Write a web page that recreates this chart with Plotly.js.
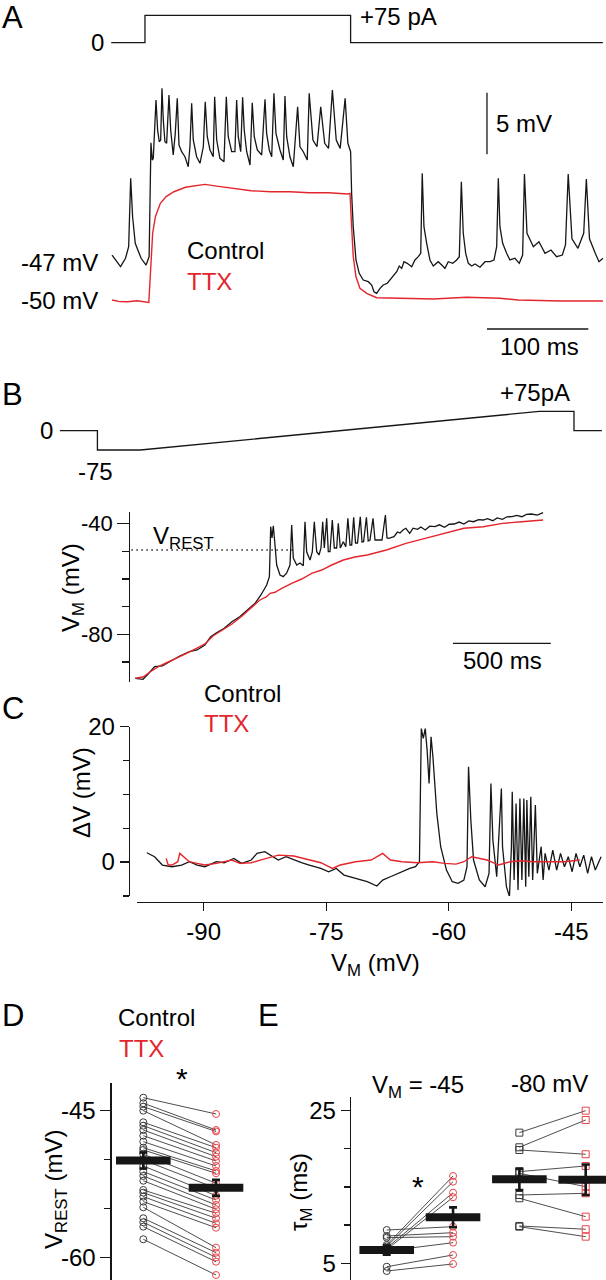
<!DOCTYPE html>
<html><head><meta charset="utf-8">
<script src="https://cdn.plot.ly/plotly-3.0.1.min.js"></script>
<style>html,body{margin:0;padding:0;background:#fff}#fig{width:606px;height:1280px}</style>
</head><body><div id="fig"></div>
<script>
// ---------- DATA ----------
// Panel A: step current (ms, pA)
const A_current = [[-33.3,0],[0,0],[0,75],[203,75],[203,0],[452,0]];
// Panel A: membrane potential (ms, mV)
const A_control = [[-32.5,-46.27],[-28.6,-46.67],[-24.1,-47.21],[-19.2,-46.53],[-16.1,-45.59],[-14.1,-40.04],[-12.2,-43.16],[-9.6,-45.32],[-3.8,-46.53],[1.1,-47.08],[4.1,-46.40],[5.9,-37.15],[7.2,-38.56],[8.2,-38.42],[9.6,-36.39],[10.9,-33.68],[12.5,-36.12],[14.1,-37.07],[15.5,-36.93],[16.8,-32.74],[18.1,-35.31],[19.7,-37.07],[21.4,-37.20],[23.7,-33.28],[25.4,-36.12],[27.9,-38.15],[29.9,-36.39],[31.9,-33.55],[33.6,-37.34],[36.2,-37.88],[39.5,-38.29],[42.7,-39.10],[44.4,-37.48],[46.1,-33.95],[47.7,-36.93],[51.0,-38.29],[54.3,-38.82],[57.6,-37.48],[59.5,-33.82],[61.5,-36.66],[64.2,-37.74],[67.4,-38.29],[68.8,-33.42],[70.8,-36.93],[74.0,-38.42],[78.0,-38.69],[80.3,-33.42],[82.2,-36.66],[85.6,-37.88],[88.8,-37.88],[90.5,-33.68],[92.1,-36.66],[94.5,-37.88],[96.4,-33.47],[98.0,-36.12],[100.4,-37.88],[103.7,-38.96],[105.9,-33.90],[107.9,-36.66],[110.9,-37.74],[115.2,-38.15],[118.5,-33.63],[120.1,-36.39],[122.7,-37.74],[125.1,-38.29],[127.3,-33.14],[129.3,-36.39],[133.3,-37.74],[136.5,-38.56],[138.2,-33.36],[139.9,-36.66],[143.1,-38.29],[146.4,-39.10],[150.7,-34.23],[153.0,-37.48],[156.3,-37.88],[160.2,-38.56],[162.1,-33.14],[165.8,-36.93],[169.8,-37.48],[173.5,-34.23],[177.4,-37.20],[181.2,-37.61],[185.0,-32.87],[188.8,-36.93],[192.7,-37.61],[197.6,-33.55],[200.3,-37.20],[203.0,-37.88],[204.0,-41.26],[205.6,-43.97],[208.3,-46.67],[211.5,-47.75],[215.5,-48.30],[220.4,-48.43],[223.8,-48.70],[226.1,-49.25],[228.7,-49.38],[232.0,-48.97],[235.2,-48.70],[239.2,-48.56],[243.5,-48.16],[248.5,-47.62],[251.0,-47.16],[253.4,-47.35],[255.7,-46.81],[258.9,-46.94],[263.3,-47.22],[266.5,-46.67],[269.8,-46.40],[272.2,-46.13],[273.7,-39.63],[275.4,-43.97],[278.1,-45.32],[281.3,-46.67],[284.6,-47.16],[289.5,-46.81],[292.9,-47.08],[296.1,-47.35],[299.4,-46.81],[303.8,-46.94],[307.7,-46.67],[310.3,-46.40],[312.3,-40.32],[314.2,-44.50],[316.6,-46.13],[319.2,-46.94],[322.5,-47.16],[325.8,-47.00],[330.7,-47.26],[335.7,-46.81],[340.6,-46.81],[344.5,-46.67],[347.2,-45.59],[348.8,-40.04],[350.4,-43.97],[353.1,-45.32],[357.0,-46.13],[360.3,-46.67],[365.2,-46.53],[369.5,-46.94],[372.8,-46.27],[374.6,-39.69],[377.1,-44.50],[383.4,-45.59],[388.9,-45.19],[394.9,-46.13],[400.8,-45.86],[406.3,-46.40],[412.0,-46.27],[415.1,-45.45],[417.8,-39.69],[421.5,-44.95],[427.4,-45.72],[433.1,-44.50],[435.7,-40.10],[438.8,-44.95],[444.5,-46.13],[448.2,-46.81],[452.1,-46.53]];
const A_ttx = [[-32.5,-49.92],[-25,-50.05],[-17.2,-50.06],[-8,-49.98],[3.8,-50.11],[5.7,-47.22],[7.6,-44.50],[10.3,-43.16],[15.2,-42.07],[20.9,-41.53],[28.6,-41.13],[40.0,-40.77],[51.4,-40.61],[59.1,-40.53],[70.6,-40.67],[85.8,-40.85],[104.9,-41.05],[124.0,-41.13],[143.0,-41.13],[162.1,-41.21],[181.2,-41.21],[200.3,-41.31],[202.4,-41.26],[204.0,-43.97],[205.6,-46.40],[208.3,-48.03],[212.2,-48.97],[218.9,-49.38],[228.7,-49.73],[251.7,-49.78],[284.6,-49.84],[317.6,-49.70],[350.4,-49.78],[368.5,-49.92],[410.2,-50.0],[452.1,-50.0]];

// Panel B: ramp current (ms, pA)
const B_current = [[-385.4,0],[-193.7,0],[-193.7,-75],[25.6,-75],[2064.7,75],[2242.6,75],[2242.6,0],[2385.2,0]];
// Panel B: membrane potential during ramp (ms, mV)
const B_control = [[0,-95.89],[39.4,-96.25],[69.0,-94.08],[98.7,-91.69],[138.0,-91.44],[177.9,-89.89],[227.0,-87.83],[276.6,-86.27],[315.9,-85.66],[355.8,-83.85],[385.4,-80.85],[415.1,-79.40],[454.5,-77.81],[493.8,-75.43],[533.7,-73.62],[573.1,-71.20],[612.4,-68.78],[642.1,-65.77],[671.7,-62.16],[685.5,-59.16],[692.2,-41.08],[698.8,-45.17],[705.5,-40.72],[714.1,-47.70],[722.8,-54.93],[739.7,-58.55],[756.6,-59.16],[773.9,-57.82],[790.8,-54.93],[799.5,-40.47],[807.7,-52.40],[825.1,-54.93],[841.9,-54.21],[858.8,-55.18],[867.5,-39.28],[876.2,-50.23],[893.1,-53.12],[904.8,-50.23],[915.0,-39.28],[927.3,-50.12],[939.1,-51.31],[949.3,-48.78],[958.0,-39.28],[966.2,-48.78],[978.4,-38.05],[986.6,-50.12],[995.3,-50.12],[1007.1,-38.66],[1017.3,-48.78],[1029.5,-48.78],[1037.7,-39.86],[1048.0,-48.78],[1063.3,-46.51],[1076.1,-48.31],[1086.8,-38.05],[1097.5,-47.70],[1106.2,-47.70],[1116.4,-37.69],[1125.7,-46.98],[1135.9,-46.98],[1150.2,-37.47],[1158.9,-46.62],[1167.1,-46.51],[1181.4,-37.69],[1190.6,-46.25],[1199.8,-45.89],[1215.2,-38.05],[1225.4,-45.89],[1240.7,-45.89],[1261.2,-45.89],[1278.5,-36.85],[1286.7,-45.17],[1294.9,-45.28],[1322.5,-44.70],[1340,-43.0],[1353.2,-43.36],[1370,-42.2],[1383.3,-41.66],[1402.8,-43.47],[1420,-41.6],[1442.6,-42.02],[1460,-41.2],[1482.0,-42.28],[1505,-40.9],[1531.6,-41.08],[1555,-40.4],[1580.7,-41.30],[1605,-40.2],[1630.2,-40.11],[1655,-39.4],[1679.8,-40.11],[1705,-39.0],[1728.9,-39.28],[1755,-38.5],[1778.5,-38.66],[1800,-38.2],[1827.5,-38.92],[1850,-37.9],[1877.1,-38.41],[1900,-37.5],[1926.7,-37.47],[1950,-37.0],[1975.8,-37.47],[2000,-36.6],[2025.4,-36.49],[2055,-36.9],[2084.7,-36.02]];
const B_ttx = [[0,-95.89],[39.4,-95.42],[75.1,-93.61],[116.0,-91.80],[156.9,-90.36],[202.9,-88.91],[254.1,-87.17],[305.2,-85.30],[356.3,-83.49],[397.2,-80.60],[443.2,-78.43],[494.3,-76.26],[545.5,-73.37],[596.6,-70.11],[637.5,-67.58],[671.7,-66.39],[688.6,-65.16],[714.1,-64.80],[748.4,-63.35],[799.5,-61.55],[850.6,-59.99],[901.7,-57.93],[952.9,-56.74],[1004.0,-54.93],[1063.3,-53.12],[1123.1,-52.04],[1185.5,-51.31],[1284.1,-49.51],[1383.3,-47.09],[1482.0,-45.28],[1580.7,-43.47],[1679.8,-41.66],[1778.5,-41.08],[1877.1,-39.86],[1975.8,-39.28],[2084.7,-38.66]];
const B_vrest = -49.5;

// Panel C: deltaV vs VM (mV, mV)
const C_control = [[-96.96,1.38],[-96.01,0.79],[-95.06,-0.44],[-93.88,-0.69],[-92.70,-0.44],[-91.75,0.05],[-90.80,-0.44],[-89.86,-0.69],[-88.44,0.05],[-87.49,-0.10],[-86.31,0.54],[-85.36,-0.20],[-84.18,0.30],[-83.47,1.28],[-82.52,1.53],[-81.81,1.03],[-80.87,0.30],[-79.92,0.79],[-78.97,0.30],[-78.03,-0.10],[-77.08,-0.44],[-75.66,-0.94],[-74.71,-1.43],[-73.77,-0.94],[-72.82,-1.92],[-71.40,-2.41],[-69.98,-2.91],[-68.80,-3.55],[-68.09,-2.66],[-67.14,-2.17],[-66.20,-1.67],[-64.78,-0.94],[-64.07,-0.69],[-63.59,0.05],[-63.36,19.75],[-63.12,18.28],[-62.88,19.75],[-62.65,16.55],[-62.41,11.63],[-62.17,18.52],[-61.94,15.57],[-61.46,7.19],[-60.99,2.27],[-60.28,-1.18],[-59.57,-2.91],[-58.86,-3.15],[-58.15,-2.66],[-57.77,-0.69],[-57.58,14.09],[-57.30,6.21],[-56.97,0.30],[-56.26,-2.66],[-55.55,-3.65],[-55.07,-1.67],[-54.84,11.63],[-54.60,3.25],[-54.13,-2.17],[-53.56,10.89],[-53.42,2.27],[-52.94,-3.65],[-52.57,-5.12],[-52.33,2.27],[-52.23,10.39],[-52.00,-2.66],[-51.76,8.67],[-51.52,-4.14],[-51.29,9.41],[-51.05,-2.66],[-50.81,9.41],[-50.58,-3.65],[-50.44,9.16],[-50.20,-2.17],[-49.96,9.66],[-49.73,-2.66],[-49.40,8.42],[-49.16,-1.67],[-48.69,2.27],[-48.45,-2.66],[-48.21,1.28],[-47.74,-1.18],[-47.27,1.77],[-46.79,-1.18],[-46.32,1.28],[-45.84,-0.69],[-45.37,0.79],[-44.90,-1.43],[-44.42,1.28],[-43.95,-0.69],[-43.48,1.03],[-43.00,-1.67],[-42.53,0.79],[-42.06,-1.18],[-41.35,0.79]];
const C_ttx = [[-94.59,0.54],[-94.35,-0.44],[-93.88,-0.44],[-93.17,0.05],[-92.93,1.28],[-92.46,0.79],[-91.75,0.05],[-90.80,-0.20],[-89.86,-0.44],[-88.44,-0.20],[-86.55,0.30],[-85.60,-0.20],[-84.18,-0.10],[-82.76,0.39],[-80.87,1.03],[-78.97,0.89],[-77.08,0.30],[-75.66,-0.10],[-74.24,-0.94],[-73.29,-0.44],[-71.40,0.05],[-69.51,0.30],[-68.09,1.28],[-67.14,0.30],[-65.72,0.05],[-63.83,-0.10],[-61.94,0.05],[-60.52,-0.20],[-59.10,-0.30],[-58.15,0.05],[-57.20,0.79],[-56.26,0.54],[-55.31,0.30],[-53.89,-0.44],[-52.47,0.05],[-51.05,0.20],[-49.63,0.05],[-47.74,0.05],[-45.84,0.05],[-43.95,0.30]];

// Panel D: V_REST per cell (mV)
const D_control = [-43.67,-44.24,-44.59,-45.00,-46.19,-46.54,-46.98,-47.56,-48.17,-48.79,-49.02,-49.46,-50.05,-50.66,-51.24,-51.68,-52.17,-53.12,-53.39,-53.80,-54.31,-54.89,-56.01,-56.42,-56.87,-58.16];
const D_ttx     = [-45.34,-46.98,-47.13,-48.51,-48.79,-49.30,-49.71,-50.15,-50.66,-51.17,-51.41,-52.43,-52.94,-53.70,-54.14,-54.65,-55.09,-55.50,-56.01,-56.53,-56.98,-59.02,-59.53,-60.01,-60.46,-61.82];
const D_mean = [-50.1,-52.9];
const D_sem  = [0.82,0.82];

// Panel E: tau_M per cell (ms)
const E45_control = [9.36,8.58,8.36,7.40,7.20,7.00,6.81,6.61,4.55,3.99];
const E45_ttx     = [9.80,9.01,8.49,16.44,15.69,14.25,13.65,7.70,6.09,4.91];
const E80_control = [22.12,20.20,19.85,17.01,16.79,13.95,13.52,9.89,9.80];
const E80_ttx     = [25.00,23.78,19.29,17.75,15.04,14.17,11.11,9.46,8.49];
const E_mean = [6.74,11.03,16.0,15.95];
const E_sem  = [0.6,1.3,1.4,2.0];

// Tick labels
const B_ticks = [-40,-80];
const C_xticks = [-90,-75,-60,-45];
const C_yticks = [0,20];
const D_ticks = [-45,-60];
const E_ticks = [5,25];

// ---------- RENDER ----------
const W=606,H=1280;
const FONT='"Liberation Sans", Arial, Helvetica, sans-serif';
const BLK='#161616', RED='#e3262d', RED_M='#e8454b', GRY='#3a3a3a';
const px=v=>v/W, py=v=>1-v/H;
const xs=p=>p.map(d=>d[0]), ys=p=>p.map(d=>d[1]);
function line(p,xa,ya,color,w,dash){return {type:'scatter',mode:'lines',x:xs(p),y:ys(p),xaxis:xa,yaxis:ya,line:{color:color,width:w||1.3,dash:dash||'solid'},hoverinfo:'skip',showlegend:false};}
function pairs(c,t,x0,x1){const x=[],y=[];for(let i=0;i<c.length;i++){x.push(x0,x1,null);y.push(c[i],t[i],null);}return {x,y};}

const traces=[];
traces.push(line(A_current,'x','y',BLK,1.3));
traces.push(line(A_ttx,'x2','y2',RED,1.4));
traces.push(line(A_control,'x2','y2',BLK,1.3));
traces.push(line(B_current,'x3','y3',BLK,1.3));
traces.push({type:'scatter',mode:'lines',x:[-20,810],y:[B_vrest,B_vrest],xaxis:'x4',yaxis:'y4',line:{color:BLK,width:1.4,dash:'1.4px,3.6px'},showlegend:false,hoverinfo:'skip'});
traces.push(line(B_control,'x4','y4',BLK,1.3));
traces.push(line(B_ttx,'x4','y4',RED,1.4));
traces.push(line(C_control,'x5','y5',BLK,1.3));
traces.push(line(C_ttx,'x5','y5',RED,1.4));

// D
const dp=pairs(D_control,D_ttx,1,2);
traces.push({type:'scatter',mode:'lines',x:dp.x,y:dp.y,xaxis:'x6',yaxis:'y6',line:{color:GRY,width:0.9},showlegend:false,hoverinfo:'skip'});
traces.push({type:'scatter',mode:'markers',x:D_control.map(()=>1),y:D_control,xaxis:'x6',yaxis:'y6',marker:{symbol:'circle-open',size:7,color:GRY,line:{width:1,color:GRY}},showlegend:false});
traces.push({type:'scatter',mode:'markers',x:D_ttx.map(()=>2),y:D_ttx,xaxis:'x6',yaxis:'y6',marker:{symbol:'circle-open',size:7,color:RED_M,line:{width:1,color:RED_M}},showlegend:false});
traces.push({type:'scatter',mode:'markers',x:[1,2],y:D_mean,xaxis:'x6',yaxis:'y6',marker:{symbol:'line-ew',size:39,line:{width:8,color:BLK}},error_y:{type:'data',array:D_sem,visible:true,color:BLK,thickness:2.6,width:4},showlegend:false});

// E
const e1=pairs(E45_control,E45_ttx,1,2), e2=pairs(E80_control,E80_ttx,3,4);
traces.push({type:'scatter',mode:'lines',x:e1.x.concat(e2.x),y:e1.y.concat(e2.y),xaxis:'x7',yaxis:'y7',line:{color:GRY,width:0.9},showlegend:false,hoverinfo:'skip'});
traces.push({type:'scatter',mode:'markers',x:E45_control.map(()=>1),y:E45_control,xaxis:'x7',yaxis:'y7',marker:{symbol:'circle-open',size:7,color:GRY,line:{width:1,color:GRY}},showlegend:false});
traces.push({type:'scatter',mode:'markers',x:E45_ttx.map(()=>2),y:E45_ttx,xaxis:'x7',yaxis:'y7',marker:{symbol:'circle-open',size:7,color:RED_M,line:{width:1,color:RED_M}},showlegend:false});
traces.push({type:'scatter',mode:'markers',x:E80_control.map(()=>3),y:E80_control,xaxis:'x7',yaxis:'y7',marker:{symbol:'square-open',size:7,color:GRY,line:{width:1,color:GRY}},showlegend:false});
traces.push({type:'scatter',mode:'markers',x:E80_ttx.map(()=>4),y:E80_ttx,xaxis:'x7',yaxis:'y7',marker:{symbol:'square-open',size:7,color:RED_M,line:{width:1,color:RED_M}},showlegend:false});
traces.push({type:'scatter',mode:'markers',x:[1,2,3,4],y:E_mean,xaxis:'x7',yaxis:'y7',marker:{symbol:'line-ew',size:39,line:{width:8,color:BLK}},error_y:{type:'data',array:E_sem,visible:true,color:BLK,thickness:2.6,width:4},showlegend:false});

const hid={visible:false,showgrid:false,zeroline:false,fixedrange:true};
const tf={size:24,color:'#000',family:FONT};
function arr(v){return {tickmode:'array',tickvals:v,ticktext:v.map(String)};}
function minor(d,t0,len){return {ticks:'outside',tickmode:'linear',dtick:d,tick0:t0,ticklen:len||6,tickwidth:1.3,tickcolor:BLK,showgrid:false};}
function yax(o){return Object.assign({showgrid:false,zeroline:false,showline:true,linecolor:BLK,linewidth:1.3,ticks:'outside',tickcolor:BLK,tickwidth:1.3,tickfont:tf,fixedrange:true},o);}

const layout={
  width:W,height:H,margin:{l:0,r:0,t:0,b:0},paper_bgcolor:'#fff',plot_bgcolor:'rgba(0,0,0,0)',
  showlegend:false,font:{family:FONT,size:24,color:'#000'},
  xaxis:Object.assign({},hid,{domain:[0,1],range:[-143.1,455.1]}),
  yaxis:Object.assign({},hid,{domain:[py(55),py(5)],range:[-33.7,103.2],anchor:'x'}),
  xaxis2:Object.assign({},hid,{domain:[0,1],range:[-143.1,455.1],anchor:'y2'}),
  yaxis2:Object.assign({},hid,{domain:[py(310),py(80)],range:[-50.73,-32.06],anchor:'x2'}),
  xaxis3:Object.assign({},hid,{domain:[0,1],range:[-691.7,2406.3],anchor:'y3'}),
  yaxis3:Object.assign({},hid,{domain:[py(460),py(400)],range:[-113.9,119.3],anchor:'x3'}),
  xaxis4:Object.assign({},hid,{domain:[0,1],range:[-691.7,2406.3],anchor:'y4'}),
  yaxis4:yax(Object.assign(arr(B_ticks),{domain:[py(681.7),py(511.7)],range:[-97.12,-35.66],anchor:'free',position:px(129.1),ticklen:12,
     tickfont:{size:22,color:'#000',family:FONT},minor:minor(10,-40,7)})),
  xaxis5:Object.assign(arr(C_xticks),{domain:[px(137.2),px(603)],range:[-98.14,-41.12],anchor:'free',position:py(901.7),showgrid:false,zeroline:false,showline:true,linecolor:BLK,linewidth:1.3,ticks:'outside',tickcolor:BLK,tickwidth:1.3,ticklen:8,tickfont:tf,fixedrange:true}),
  yaxis5:yax(Object.assign(arr(C_yticks),{domain:[py(896),py(726.7)],range:[-5.02,20.02],anchor:'free',position:px(128.7),ticklen:9,minor:minor(5,0,6)})),
  xaxis6:Object.assign({},hid,{domain:[px(111.7),px(300)],range:[0.5653,3.155],anchor:'y6'}),
  yaxis6:yax(Object.assign(arr(D_ticks),{domain:[0,py(1083)],range:[-62.33,-42.17],anchor:'x6',ticklen:10,minor:minor(5,-45,6)})),
  xaxis7:Object.assign({},hid,{domain:[px(351),1],range:[0.4615,4.306],anchor:'y7'}),
  yaxis7:yax(Object.assign(arr(E_ticks),{domain:[0,py(1096.7)],range:[2.81,26.83],anchor:'x7',ticklen:9,minor:minor(5,5,6)})),
  shapes:[
    {type:'line',xref:'x2',yref:'y2',x0:337.6,x1:337.6,y0:-38.09,y1:-33.09,line:{color:BLK,width:1.3}},
    {type:'line',xref:'x2',yref:'paper',x0:337.6,x1:437.6,y0:py(329),y1:py(329),line:{color:BLK,width:1.3}},
    {type:'line',xref:'x4',yref:'y4',x0:1624,x1:2124,y0:-83.24,y1:-83.24,line:{color:BLK,width:1.3}}
  ],
  annotations:[]
};
function T(text,x,y,o){o=o||{};layout.annotations.push({text:text,x:px(x),y:py(y),xref:'paper',yref:'paper',showarrow:false,
  xanchor:o.xa||'center',yanchor:'middle',textangle:o.rot||0,borderpad:0,font:{size:o.s||24,color:o.c||'#000',family:FONT}});}
// Panel letters
T('A',1,17,{xa:'left',s:31}); T('B',1,394,{xa:'left',s:31}); T('C',1,708,{xa:'left',s:31});
T('D',1,1015,{xa:'left',s:31}); T('E',257,1015,{xa:'left',s:31});
// A
T('0',105,42.7,{xa:'right'}); T('+75 pA',358.7,16.7,{xa:'left'});
T('-47 mV',99,262.3,{xa:'right'}); T('-50 mV',99,301,{xa:'right'});
T('Control',186,250,{xa:'left'}); T('TTX',186,281.7,{xa:'left',c:RED});
T('5 mV',494.8,123.3,{xa:'left'}); T('100 ms',539,346.7);
// B
T('0',54,430.7,{xa:'right'}); T('-75',95.8,471.7); T('+75pA',535.4,392.3);
T('V<sub>REST</sub>',151.5,537,{xa:'left'});
T('500 ms',502.5,660.7);
T('V<sub>M</sub> (mV)',72,588,{rot:-90});
// C
T('Control',203,693.3,{xa:'left'}); T('TTX',203,723.3,{xa:'left',c:RED});
T('ΔV (mV)',81,793,{rot:-90});
T('V<sub>M</sub> (mV)',375,964);
// D
T('Control',116.7,1017.7,{xa:'left'}); T('TTX',118.3,1048.3,{xa:'left',c:RED});
T('*',181.7,1078,{s:30});
T('V<sub>REST</sub> (mV)',55,1190,{rot:-90});
// E
T('V<sub>M</sub> = -45',417.5,1086); T('-80 mV',549,1083);
T('*',418.3,1186,{s:30});
T('τ<sub>M</sub> (ms)',300,1192,{rot:-90});

Plotly.newPlot('fig',traces,layout,{staticPlot:true,displayModeBar:false});
</script></body></html>
